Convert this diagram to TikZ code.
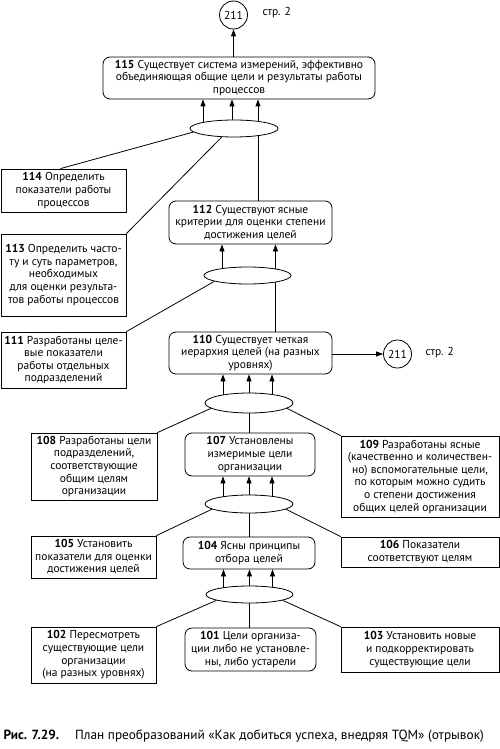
\documentclass[tikz,border=0pt]{standalone}
\usepackage{fontspec}
\setmainfont{PT Sans}
\usetikzlibrary{arrows.meta,shapes.geometric,backgrounds}

\tikzset{
  box/.style={draw, line width=0.8pt, align=center, inner sep=1pt, font=\fontsize{11.5}{12.6}\selectfont},
  rbox/.style={box, rounded corners=7pt},
  oval/.style={draw, ellipse, fill=white, line width=0.8pt, minimum width=88, minimum height=17, inner sep=0pt},
  refcirc/.style={draw, circle, fill=white, line width=0.8pt, minimum size=28, inner sep=0pt, font=\fontsize{11.5}{12.6}\selectfont},
  pagenote/.style={font=\fontsize{11.5}{12.6}\selectfont},
  arr/.style={-{Triangle[length=7pt,width=5pt]}, line width=0.8pt},
  link/.style={line width=0.8pt},
}

\begin{document}
\begin{tikzpicture}[x=1pt,y=-1pt]
                \useasboundingbox (0,0) rectangle (500,749);
                % references to page 2
                \node[refcirc] (r1) at (233.5,15) {211};
                \node[pagenote, anchor=west] (p1) at (259,13) {стр. 2};
                \node[refcirc] (r2) at (397.5,354) {211};
                \node[pagenote, anchor=west] (p2) at (422,353) {стр. 2};
                % boxes
                \node[rbox, minimum width=272, minimum height=42] (b115) at (239,78) {\textbf{115} Существует система измерений, эффективно\\объединяющая общие цели и результаты работы\\процессов};
                \node[box, minimum width=125, minimum height=43] (b114) at (63.5,190.5) {\textbf{114} Определить\\показатели работы\\процессов};
                \node[rbox, minimum width=163, minimum height=43] (b112) at (250.5,222.5) {\textbf{112} Существуют ясные\\критерии для оценки степени\\достижения целей};
                \node[box, minimum width=125, minimum height=82] (b113) at (63.5,275) {\textbf{113} Определить часто-\\ту и суть параметров,\\необходимых\\для оценки результа-\\тов работы процессов};
                \node[box, minimum width=125, minimum height=56] (b111) at (63.5,360) {\textbf{111} Разработаны целе-\\вые показатели\\работы отдельных\\подразделений};
                \node[rbox, minimum width=163, minimum height=42] (b110) at (250.5,353) {\textbf{110} Существует четкая\\иерархия целей (на разных\\уровнях)};
                \node[box, minimum width=126, minimum height=67] (b108) at (94,466.5) {\textbf{108} Разработаны цели\\подразделений,\\соответствующие\\общим целям\\организации};
                \node[rbox, minimum width=130, minimum height=43] (b107) at (250,454.5) {\textbf{107} Установлены\\измеримые цели\\организации};
                \node[box, minimum width=158, minimum height=81] (b109) at (420,476.5) {\textbf{109} Разработаны ясные\\(качественно и количествен-\\но) вспомогательные цели,\\по которым можно судить\\о степени достижения\\общих целей организации};
                \node[box, minimum width=125, minimum height=42] (b105) at (93.5,557) {\textbf{105} Установить\\показатели для оценки\\достижения целей};
                \node[rbox, minimum width=132, minimum height=32] (b104) at (249,553) {\textbf{104} Ясны принципы\\отбора целей};
                \node[box, minimum width=158, minimum height=30] (b106) at (420,552) {\textbf{106} Показатели\\соответствуют целям};
                \node[box, minimum width=125, minimum height=56] (b102) at (93.5,655) {\textbf{102} Пересмотреть\\существующие цели\\организации\\(на разных уровнях)};
                \node[rbox, minimum width=131, minimum height=43] (b101) at (250.5,649.5) {\textbf{101} Цели организа-\\ции либо не установле-\\ны, либо устарели};
                \node[box, minimum width=158, minimum height=45] (b103) at (420,649.5) {\textbf{103} Установить новые\\и подкорректировать\\существующие цели};
                % ovals
                \node[oval] (e1) at (234,128.5) {};
                \node[oval, minimum width=87] (e2) at (247.5,275.5) {};
                \node[oval, minimum height=20] (e3) at (249,403) {};
                \node[oval, minimum height=18] (e4) at (249,504) {};
                \node[oval, minimum width=87] (e5) at (249.5,594.5) {};
                % arrows out of the ovals
                \begin{scope}[on background layer]
                \foreach \dx in {-31,-2,24}{\draw[arr] ([xshift=\dx pt]e1.center) -- ([xshift=\dx pt]e1.center |- b115.south);}
                \foreach \dx in {-25.5,28}{\draw[arr] ([xshift=\dx pt]e2.center) -- ([xshift=\dx pt]e2.center |- b112.south);}
                \foreach \dx in {-26,0,23}{\draw[arr] ([xshift=\dx pt]e3.center) -- ([xshift=\dx pt]e3.center |- b110.south);}
                \foreach \dx in {-26,0,23}{\draw[arr] ([xshift=\dx pt]e4.center) -- ([xshift=\dx pt]e4.center |- b107.south);}
                \foreach \dx in {-26,0,23}{\draw[arr] ([xshift=\dx pt]e5.center) -- ([xshift=\dx pt]e5.center |- b104.south);}
                \draw[link] ([xshift=24pt]e1.center) -- ([xshift=24pt]e1.center |- b112.north);
                \draw[link] ([xshift=28pt]e2.center) -- ([xshift=28pt]e2.center |- b110.north);
                \draw[link] (e3.center) -- (e3.center |- b107.north);
                \draw[link] (e4.center) -- (e4.center |- b104.north);
                \draw[link] (e5.center) -- (e5.center |- b101.north);
                \end{scope}
                % links into the ovals
                \draw[link] ([xshift=-3pt]b114.north) -- (e1.185);
                \draw[link] (b113.north east) -- (e1.215);
                \draw[link] (b111.north east) -- (e2.190);
                \draw[link] (b108.north east) -- (e3.188);
                \draw[link] (b109.north west) -- (e3.352);
                \draw[link] (b105.north east) -- (e4.188);
                \draw[link] (b106.north west) -- (e4.352);
                \draw[link] (b102.north east) -- (e5.190);
                \draw[link] (b103.north west) -- (e5.350);
                % to page 2
                \draw[arr] (r1.south |- b115.north) -- (r1.south);
                \draw[arr] (b110.east |- r2.west) -- (r2.west);
                % caption
                \node[anchor=west, font=\fontsize{13.3}{15}\selectfont] (cap) at (0,736) {\textbf{Рис. 7.29.}\hspace{1.2em}План преобразований «Как добиться успеха, внедряя TQM» (отрывок)};
\end{tikzpicture}
\end{document}
